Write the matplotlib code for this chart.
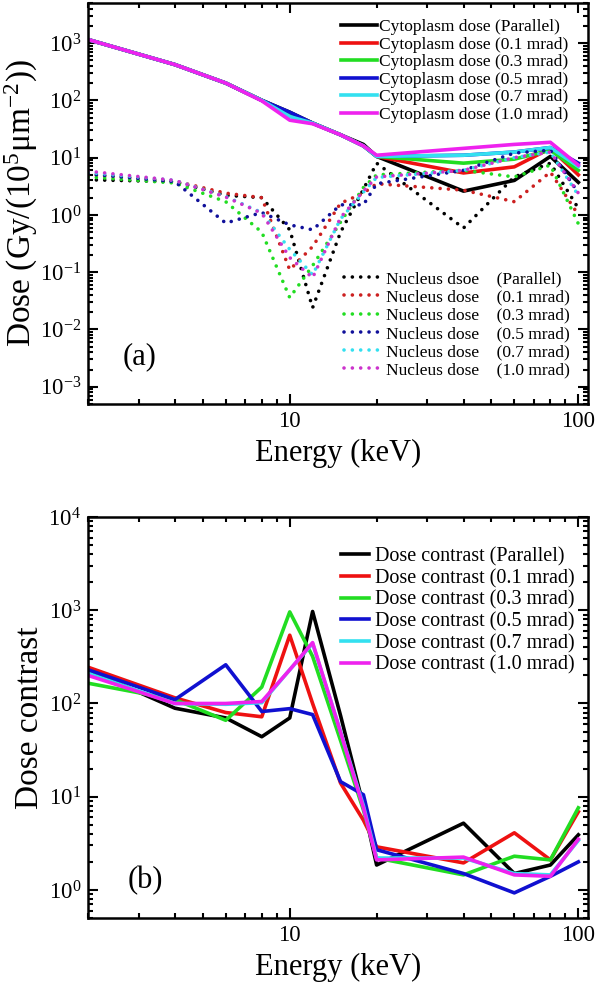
import matplotlib
matplotlib.use('Agg')
import matplotlib.pyplot as plt
from matplotlib.ticker import LogLocator, LogFormatterMathtext, NullFormatter
import numpy as np

plt.rcParams['font.family'] = ['Liberation Serif', 'DejaVu Serif']
plt.rcParams['mathtext.fontset'] = 'custom'
plt.rcParams['mathtext.rm'] = 'Liberation Serif'
plt.rcParams['mathtext.it'] = 'Liberation Serif:italic'

# photon energies (keV)
energy = [2, 4, 6, 8, 10, 12, 15, 18, 20, 40, 60, 80, 100]

# cytoplasm dose
cyto_par = [1150, 420, 200, 100, 62, 40, 25, 17, 10.5, 2.6, 4.0, 10.5, 3.7]
cyto_01 = [1150, 420, 200, 100, 60, 40, 25, 16, 10.5, 5.4, 6.9, 14.5, 5.0]
cyto_03 = [1150, 420, 200, 100, 60, 40, 25, 16, 10.5, 8.0, 9.4, 13.5, 6.0]
cyto_05 = [1150, 420, 200, 100, 62, 40, 25, 16, 10.5, 11, 12.5, 15, 8.0]
cyto_07 = [1150, 420, 200, 100, 52, 40, 25, 16, 10.5, 11, 12.5, 15, 7.0]
cyto_10 = [1150, 420, 200, 98, 45, 39, 25, 16, 11, 14.5, 17, 18.5, 7.4]

# nucleus dose
nuc_par = [4.1, 3.8, 2.2, 2.0, 0.55, 0.024, 0.5, 2.8, 8.0, 0.59, 4.6, 8.0, 1.3]
nuc_01 = [5.0, 3.9, 2.4, 2.0, 0.11, 0.28, 1.6, 2.4, 3.5, 2.7, 1.7, 5.6, 1.0]
nuc_03 = [4.6, 3.6, 1.7, 0.5, 0.036, 0.13, 0.75, 3.0, 5.0, 6.0, 4.6, 7.4, 0.7]
nuc_05 = [5.2, 3.8, 0.72, 1.1, 0.67, 0.55, 1.5, 1.5, 3.5, 6.0, 12, 13.5, 2.4]
nuc_07 = [5.5, 4.0, 2.1, 1.1, 0.25, 0.09, 0.85, 2.5, 4.5, 6.0, 10, 12.5, 2.2]
nuc_10 = [5.8, 4.0, 2.05, 1.07, 0.18, 0.08, 0.9, 2.6, 4.6, 6.0, 10, 12.5, 2.4]

# dose contrast
con_par = [230, 89, 70, 44, 70, 970, 74, 8, 1.85, 5.2, 1.5, 1.85, 3.9]
con_01 = [245, 115, 80, 72, 540, 100, 14, 5.6, 2.9, 1.95, 4.1, 2.1, 6.9]
con_03 = [165, 110, 66, 150, 960, 320, 40, 7.2, 2.2, 1.45, 2.3, 2.1, 7.6]
con_05 = [230, 110, 260, 82, 88, 76, 14.5, 10.5, 2.7, 1.5, 0.93, 1.4, 2.0]
con_07 = [210, 100, 98, 102, 230, 440, 50, 8, 2.2, 2.2, 1.5, 1.45, 3.4]
con_10 = [200, 100, 100, 105, 230, 450, 49, 7.6, 2.1, 2.25, 1.45, 1.4, 3.5]

colors = ['#000000', '#ee1111', '#22dd22', '#1010d0', '#33e0f0', '#ee22ee']
nuc_colors = ['#000000', '#cc2020', '#22dd22', '#10109a', '#33e0f0', '#cc33cc']
settings = ['(Parallel)', '(0.1 mrad)', '(0.3 mrad)', '(0.5 mrad)', '(0.7 mrad)', '(1.0 mrad)']

fig = plt.figure(figsize=(6, 9.92), dpi=100)
ax1 = fig.add_axes([0.1467, 0.5927, 0.8333, 0.4043])
ax2 = fig.add_axes([0.1467, 0.0746, 0.8333, 0.4042])

def style_axis(ax):
    ax.set_xscale('log')
    ax.set_yscale('log')
    ax.set_xlim(2, 108)
    ax.set_xticks([10, 100])
    ax.set_xticklabels(['10', '100'])
    ax.xaxis.set_minor_locator(LogLocator(base=10, subs=np.arange(2, 10)))
    ax.xaxis.set_minor_formatter(NullFormatter())
    ax.yaxis.set_major_locator(LogLocator(base=10, numticks=20))
    ax.yaxis.set_major_formatter(LogFormatterMathtext())
    ax.yaxis.set_minor_locator(LogLocator(base=10, subs=np.arange(2, 10), numticks=20))
    ax.yaxis.set_minor_formatter(NullFormatter())
    ax.tick_params(which='both', direction='in', top=True, right=True, labelsize=16.5, width=1.5)
    ax.tick_params(which='major', length=7, pad=5)
    ax.tick_params(which='minor', length=3.5)
    for s in ax.spines.values():
        s.set_linewidth(1.8)
    ax.set_xlabel('Energy (keV)', fontsize=22, labelpad=5)

# (a) dose
cyto = [cyto_par, cyto_01, cyto_03, cyto_05, cyto_07, cyto_10]
nuc = [nuc_par, nuc_01, nuc_03, nuc_05, nuc_07, nuc_10]
cyto_lines = []
for vals, c, s in zip(cyto, colors, settings):
    ln, = ax1.plot(energy, vals, color=c, lw=2.6, label='Cytoplasm dose ' + s)
    cyto_lines.append(ln)
nuc_lines = []
nuc_names = ['Nucleus dsoe    ', 'Nucleus dose    ', 'Nucleus dose    ',
             'Nucleus dose    ', 'Nucleus dose    ', 'Nucleus dose    ']
for vals, c, n, s in zip(nuc, nuc_colors, nuc_names, settings):
    ln, = ax1.plot(energy, vals, color=c, lw=2.6, linestyle=(0, (0.01, 2.3)),
                   dash_capstyle='round', label=n + s)
    nuc_lines.append(ln)
style_axis(ax1)
ax1.set_ylim(5e-4, 5e3)
ax1.set_ylabel(r'Dose (Gy/(10$^{5}$μm$^{-2}$))', fontsize=24, labelpad=0)
leg1 = ax1.legend(handles=cyto_lines, loc='upper right', fontsize=12.5, frameon=False,
                  handlelength=2.1, handletextpad=0.1, labelspacing=0.08,
                  borderaxespad=0.3, bbox_to_anchor=(0.985, 0.99))
ax1.add_artist(leg1)
ax1.legend(handles=nuc_lines, loc='lower right', fontsize=12.5, frameon=False,
           handlelength=2.1, handletextpad=0.3, labelspacing=0.12,
           bbox_to_anchor=(0.995, 0.025))
ax1.text(0.07, 0.10, '(a)', transform=ax1.transAxes, fontsize=22)

# (b) dose contrast
con = [con_par, con_01, con_03, con_05, con_07, con_10]
for vals, c, s in zip(con, colors, settings):
    ax2.plot(energy, vals, color=c, lw=2.6, label='Dose contrast ' + s)
style_axis(ax2)
ax2.set_ylim(0.5, 1e4)
ax2.set_ylabel('Dose contrast', fontsize=24, labelpad=2)
ax2.legend(loc='upper right', fontsize=14.5, frameon=False, handlelength=1.4,
           handletextpad=0.3, labelspacing=0.12, bbox_to_anchor=(1.01, 0.97))
ax2.text(0.08, 0.075, '(b)', transform=ax2.transAxes, fontsize=22)

fig.savefig('out.png', dpi=100)
